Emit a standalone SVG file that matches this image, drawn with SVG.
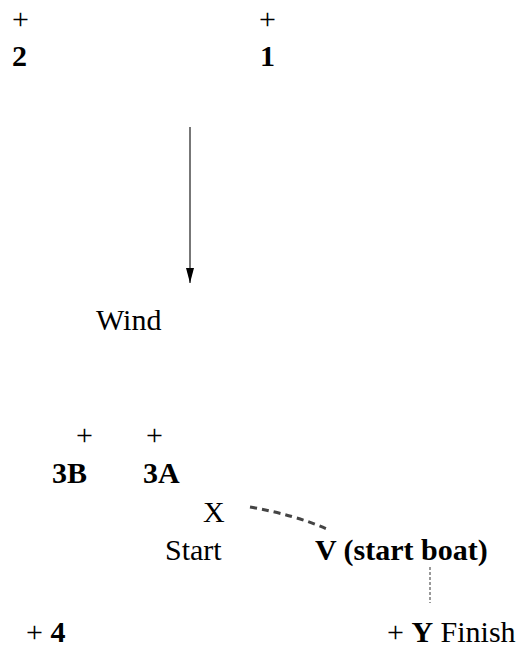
<svg xmlns="http://www.w3.org/2000/svg" width="526" height="650" viewBox="0 0 526 650">
<defs>
<marker id="ah" viewBox="0 0 15 8" refX="15" refY="4" markerWidth="15" markerHeight="8" markerUnits="userSpaceOnUse" orient="auto">
<path d="M0,0 L15,4 L0,8 Z" fill="#000"/>
</marker>
</defs>
<rect width="526" height="650" fill="#fff"/>
<g id="mark2"><text x="12" y="29" style="font-family:serif;font-size:30px">+</text><text x="12" y="66" style="font-family:serif;font-size:30px;font-weight:bold">2</text></g>
<g id="mark1"><text x="259" y="29" style="font-family:serif;font-size:30px">+</text><text x="260" y="66" style="font-family:serif;font-size:30px;font-weight:bold">1</text></g>
<g id="wind"><text x="96" y="330" style="font-family:serif;font-size:30px">Wind</text></g>
<g id="mark3B"><text x="76" y="445" style="font-family:serif;font-size:30px">+</text><text x="52" y="483" style="font-family:serif;font-size:30px;font-weight:bold">3B</text></g>
<g id="mark3A"><text x="146" y="445" style="font-family:serif;font-size:30px">+</text><text x="143" y="483" style="font-family:serif;font-size:30px;font-weight:bold">3A</text></g>
<g id="pinX"><text x="203" y="522" style="font-family:serif;font-size:30px">X</text><text x="165" y="560" style="font-family:serif;font-size:30px">Start</text></g>
<g id="boatV"><text x="315" y="560" style="font-family:serif;font-size:30px;font-weight:bold">V (start boat)</text></g>
<g id="mark4"><text x="26" y="642" style="font-family:serif;font-size:30px">+ <tspan style="font-weight:bold">4</tspan></text></g>
<g id="finishY"><text x="387" y="642" style="font-family:serif;font-size:30px">+ <tspan style="font-weight:bold">Y</tspan> Finish</text></g>
<g id="connectors">
<line x1="190" y1="127" x2="190" y2="283" stroke="#777" stroke-width="2" marker-end="url(#ah)"/>
<path d="M250,507 Q295,515 327,529" fill="none" stroke="#444" stroke-width="3" stroke-dasharray="7,5"/>
<line x1="430" y1="567" x2="430" y2="603" stroke="#999" stroke-width="2" stroke-dasharray="3,2"/>
</g>
</svg>
